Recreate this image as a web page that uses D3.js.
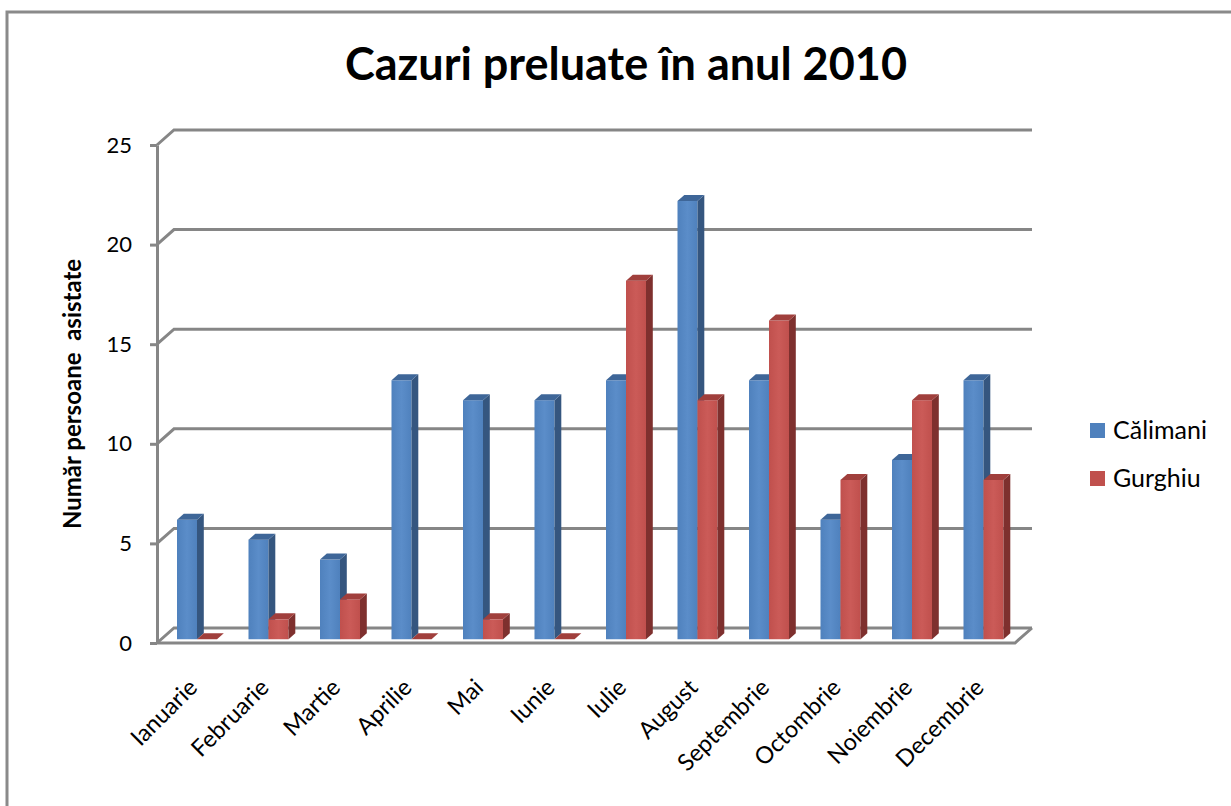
<!DOCTYPE html>
<html>
<head>
<meta charset="utf-8">
<script src="https://cdnjs.cloudflare.com/ajax/libs/d3/7.8.5/d3.min.js"></script>
<style>
  body { margin: 0; background: #fff; }
  svg { display: block; }
  text { font-family: Lato, "Open Sans", sans-serif; fill: #000; }
</style>
</head>
<body>
<svg id="chart" width="1231" height="806"></svg>
<script>
const months = ["Ianuarie", "Februarie", "Martie", "Aprilie", "Mai", "Iunie",
  "Iulie", "August", "Septembrie", "Octombrie", "Noiembrie", "Decembrie"];
const calimani = [6, 5, 4, 13, 12, 12, 13, 22, 13, 6, 9, 13];
const gurghiu = [0, 1, 2, 0, 1, 0, 18, 12, 16, 8, 12, 8];
const yTicks = [0, 5, 10, 15, 20, 25];
const seriesNames = ["Călimani", "Gurghiu"];

const colors = [
  { front: "#4f81bd", light: "#5b8dc9", side: "#35567f", top: "#3e6698" },
  { front: "#c0504d", light: "#cb5b58", side: "#7e302e", top: "#a03f3c" },
];

const svg = d3.select("#chart");

// chart frame (left + top edge visible)
svg.append("path")
  .attr("d", "M7,806 L7,12 L1231,12")
  .attr("fill", "none")
  .attr("stroke", "#8a8a8a")
  .attr("stroke-width", 3);

const x0 = 157, x1 = 1015;
const depth = { dx: 17, dy: -15 };

const y = d3.scaleLinear().domain([0, 25]).range([643, 145]);
const x = d3.scaleBand().domain(months).range([x0, x1]);
const xs = d3.scaleBand().domain([0, 1]).range([0, 40]);

const defs = svg.append("defs");
colors.forEach((c, i) => {
  const g = defs.append("linearGradient").attr("id", "grad" + i)
    .attr("x1", 0).attr("x2", 1).attr("y1", 0).attr("y2", 0);
  g.append("stop").attr("offset", "0%").attr("stop-color", c.front);
  g.append("stop").attr("offset", "50%").attr("stop-color", c.light);
  g.append("stop").attr("offset", "100%").attr("stop-color", c.front);
});

const grid = svg.append("g");
// gridlines on back wall + diagonal on left wall
yTicks.forEach(v => {
  const yf = y(v), yb = y(v) + depth.dy;
  grid.append("path")
    .attr("d", `M${x0},${yf} L${x0 + depth.dx},${yb} L${x1 + depth.dx},${yb}`)
    .attr("fill", "none")
    .attr("stroke", "#868686")
    .attr("stroke-width", 3);
});

// floor front edge + right edge
grid.append("path")
  .attr("d", `M${x0},${y(0)} L${x1},${y(0)} L${x1 + depth.dx},${y(0) + depth.dy}`)
  .attr("fill", "none")
  .attr("stroke", "#868686")
  .attr("stroke-width", 3);

// front y axis with ticks
const yAxis = svg.append("g").attr("transform", `translate(${x0},0)`)
  .call(d3.axisLeft(y).tickValues(yTicks).tickSize(7).tickSizeOuter(0).tickPadding(18));
yAxis.select(".domain").attr("stroke", "#868686").attr("stroke-width", 3);
yAxis.selectAll(".tick line").attr("stroke", "#868686").attr("stroke-width", 3);
yAxis.selectAll(".tick text")
  .attr("font-family", "Lato, 'Open Sans', sans-serif")
  .attr("font-size", 22)
  .attr("fill", "#000");

// bars
const f0 = 0.25, f1 = 0.65;
const bw = xs.bandwidth();
const bars = svg.append("g");
months.forEach((m, i) => {
  [calimani[i], gurghiu[i]].forEach((v, s) => {
    const c = colors[s];
    const left = x(m) + (x.bandwidth() - 40) / 2 + xs(s) + f0 * depth.dx;
    const base = y(0) + f0 * depth.dy;
    const top = base - (y(0) - y(v));
    const ddx = (f1 - f0) * depth.dx, ddy = (f1 - f0) * depth.dy;
    const right = left + bw;
    if (v > 0) {
      bars.append("rect")
        .attr("x", left).attr("y", top)
        .attr("width", bw).attr("height", base - top)
        .attr("fill", `url(#grad${s})`);
      bars.append("path")
        .attr("d", `M${right},${top} L${right + ddx},${top + ddy} L${right + ddx},${base + ddy} L${right},${base} Z`)
        .attr("fill", c.side);
    }
    bars.append("path")
      .attr("d", `M${left},${top} L${left + ddx},${top + ddy} L${right + ddx},${top + ddy} L${right},${top} Z`)
      .attr("fill", c.top);
  });
});

// x labels
svg.append("g").selectAll("text")
  .data(months)
  .join("text")
  .attr("transform", d => `translate(${x(d) + x.bandwidth() / 2 + 6},689) rotate(-45)`)
  .attr("text-anchor", "end")
  .attr("font-size", 23.5)
  .text(d => d);

// y title
svg.append("text")
  .attr("transform", "translate(81,394) rotate(-90)")
  .attr("text-anchor", "middle")
  .attr("font-size", 24)
  .attr("font-weight", "bold")
  .style("white-space", "pre")
  .text("Număr persoane  asistate");

// title
svg.append("text")
  .attr("x", 626)
  .attr("y", 80)
  .attr("text-anchor", "middle")
  .attr("font-size", 45)
  .attr("font-weight", "bold")
  .text("Cazuri preluate în anul 2010");

// legend
const legend = svg.append("g");
seriesNames.forEach((n, i) => {
  legend.append("rect")
    .attr("x", 1090).attr("y", 423 + i * 48)
    .attr("width", 15).attr("height", 15)
    .attr("fill", colors[i].front);
  legend.append("text")
    .attr("x", 1113).attr("y", 439 + i * 48)
    .attr("font-size", 25)
    .text(n);
});
</script>
</body>
</html>
